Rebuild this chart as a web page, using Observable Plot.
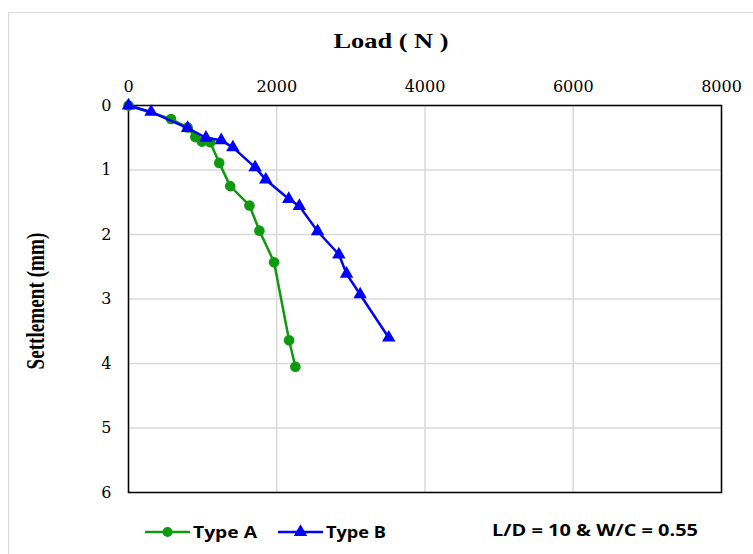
<!DOCTYPE html>
<html><head><meta charset="utf-8">
<script src="https://cdn.jsdelivr.net/npm/d3@7"></script>
<script src="https://cdn.jsdelivr.net/npm/@observablehq/plot@0.6"></script>
<style>
body{margin:0;background:#fff;}
#wrap{position:relative;width:753px;height:554px;overflow:hidden;background:#fff;}
#border{position:absolute;left:8px;top:12px;width:800px;height:600px;border:1.5px solid #d9d9d9;box-sizing:border-box;}
#chart{position:absolute;left:0;top:0;}
#overlay{position:absolute;left:0;top:0;pointer-events:none;}
</style></head><body>
<div id="wrap"><div id="border"></div><div id="chart"></div><svg id="overlay" width="753" height="554"></svg></div>
<script>
const typeALoad = [0, 574, 798, 901, 991, 1103, 1224, 1372, 1632, 1766, 1964, 2166, 2251];
const typeASettle = [0, 0.21, 0.34, 0.49, 0.56, 0.57, 0.89, 1.25, 1.55, 1.94, 2.43, 3.64, 4.05];
const typeBLoad = [0, 305, 798, 1045, 1251, 1408, 1708, 1852, 2162, 2305, 2551, 2838, 2942, 3125, 3511];
const typeBSettle = [0, 0.10, 0.35, 0.50, 0.54, 0.65, 0.96, 1.15, 1.45, 1.56, 1.95, 2.31, 2.61, 2.93, 3.60];
const seriesNames = ["Type A", "Type B"];
const seriesColors = ["#0e9a0e", "#0000ff"];
const seriesSymbols = ["circle", "triangle"];
const xTicks = [0, 2000, 4000, 6000, 8000];
const yTicks = [0, 1, 2, 3, 4, 5, 6];
const titleText = "Load ( N )";
const yLabelText = "Settlement (mm)";
const noteText = "L/D = 10 & W/C = 0.55";

const dataA = typeALoad.map((v, i) => ({load: v, settle: typeASettle[i], series: seriesNames[0]}));
const dataB = typeBLoad.map((v, i) => ({load: v, settle: typeBSettle[i], series: seriesNames[1]}));

const plot = Plot.plot({
  width: 753, height: 554,
  marginLeft: 128, marginRight: 32, marginTop: 105, marginBottom: 62,
  style: {fontFamily: "'DejaVu Serif', serif", fontSize: "16px", color: "#000", background: "transparent"},
  x: {domain: [0, 8000]},
  y: {domain: [0, 6], reverse: true},
  marks: [
    Plot.gridX(xTicks, {stroke: "#d9d9d9", strokeOpacity: 1, strokeWidth: 1.5}),
    Plot.gridY(yTicks, {stroke: "#d9d9d9", strokeOpacity: 1, strokeWidth: 1.5}),
    Plot.axisX(xTicks, {anchor: "top", tickSize: 0, tickPadding: 14, label: null, fontSize: 16, tickFormat: d => String(d)}),
    Plot.axisY(yTicks, {anchor: "left", tickSize: 0, tickPadding: 17, label: null, fontSize: 16, tickFormat: d => String(d)}),
    Plot.frame({stroke: "#000", strokeWidth: 1.5}),
    Plot.line(dataA, {x: "load", y: "settle", stroke: seriesColors[0], strokeWidth: 2.5}),
    Plot.dot(dataA, {x: "load", y: "settle", symbol: seriesSymbols[0], fill: seriesColors[0], r: 5.3}),
    Plot.line(dataB, {x: "load", y: "settle", stroke: seriesColors[1], strokeWidth: 2.5}),
    Plot.dot(dataB, {x: "load", y: "settle", symbol: seriesSymbols[1], fill: seriesColors[1], r: 5})
  ]
});
document.getElementById("chart").appendChild(plot);

const ov = d3.select("#overlay");
ov.append("text").attr("x", 391).attr("y", 48).attr("text-anchor", "middle")
  .attr("font-family", "'Liberation Serif', serif").attr("font-weight", "bold").attr("font-size", 21)
  .attr("textLength", 115).attr("lengthAdjust", "spacingAndGlyphs").text(titleText);
ov.append("text").attr("transform", "translate(35,301) rotate(-90)").attr("text-anchor", "middle")
  .attr("dominant-baseline", "central")
  .attr("font-family", "'Liberation Serif', serif").attr("font-weight", "bold").attr("font-size", 26)
  .attr("textLength", 137).attr("lengthAdjust", "spacingAndGlyphs").text(yLabelText);

const legX = [145, 278];
const legW = [64, 60];
seriesNames.forEach((name, i) => {
  const g = ov.append("g");
  const x0 = legX[i], cy = 532;
  g.append("line").attr("x1", x0).attr("x2", x0 + 45).attr("y1", cy).attr("y2", cy)
    .attr("stroke", seriesColors[i]).attr("stroke-width", 2.5);
  const sym = seriesSymbols[i] === "circle" ? d3.symbolCircle : d3.symbolTriangle;
  g.append("path").attr("d", d3.symbol(sym, Math.PI * 25)()).attr("transform", `translate(${x0 + 22.5},${cy})`)
    .attr("fill", seriesColors[i]);
  g.append("text").attr("x", x0 + 48).attr("y", cy).attr("dominant-baseline", "central")
    .attr("font-family", "'Open Sans', sans-serif").attr("font-weight", "bold").attr("font-size", 16)
    .attr("textLength", legW[i]).attr("lengthAdjust", "spacingAndGlyphs").text(name);
});
ov.append("text").attr("x", 492).attr("y", 530).attr("dominant-baseline", "central")
  .attr("font-family", "'Open Sans', sans-serif").attr("font-weight", "bold").attr("font-size", 16)
  .attr("textLength", 206).attr("lengthAdjust", "spacingAndGlyphs").text(noteText);
</script>
</body></html>
